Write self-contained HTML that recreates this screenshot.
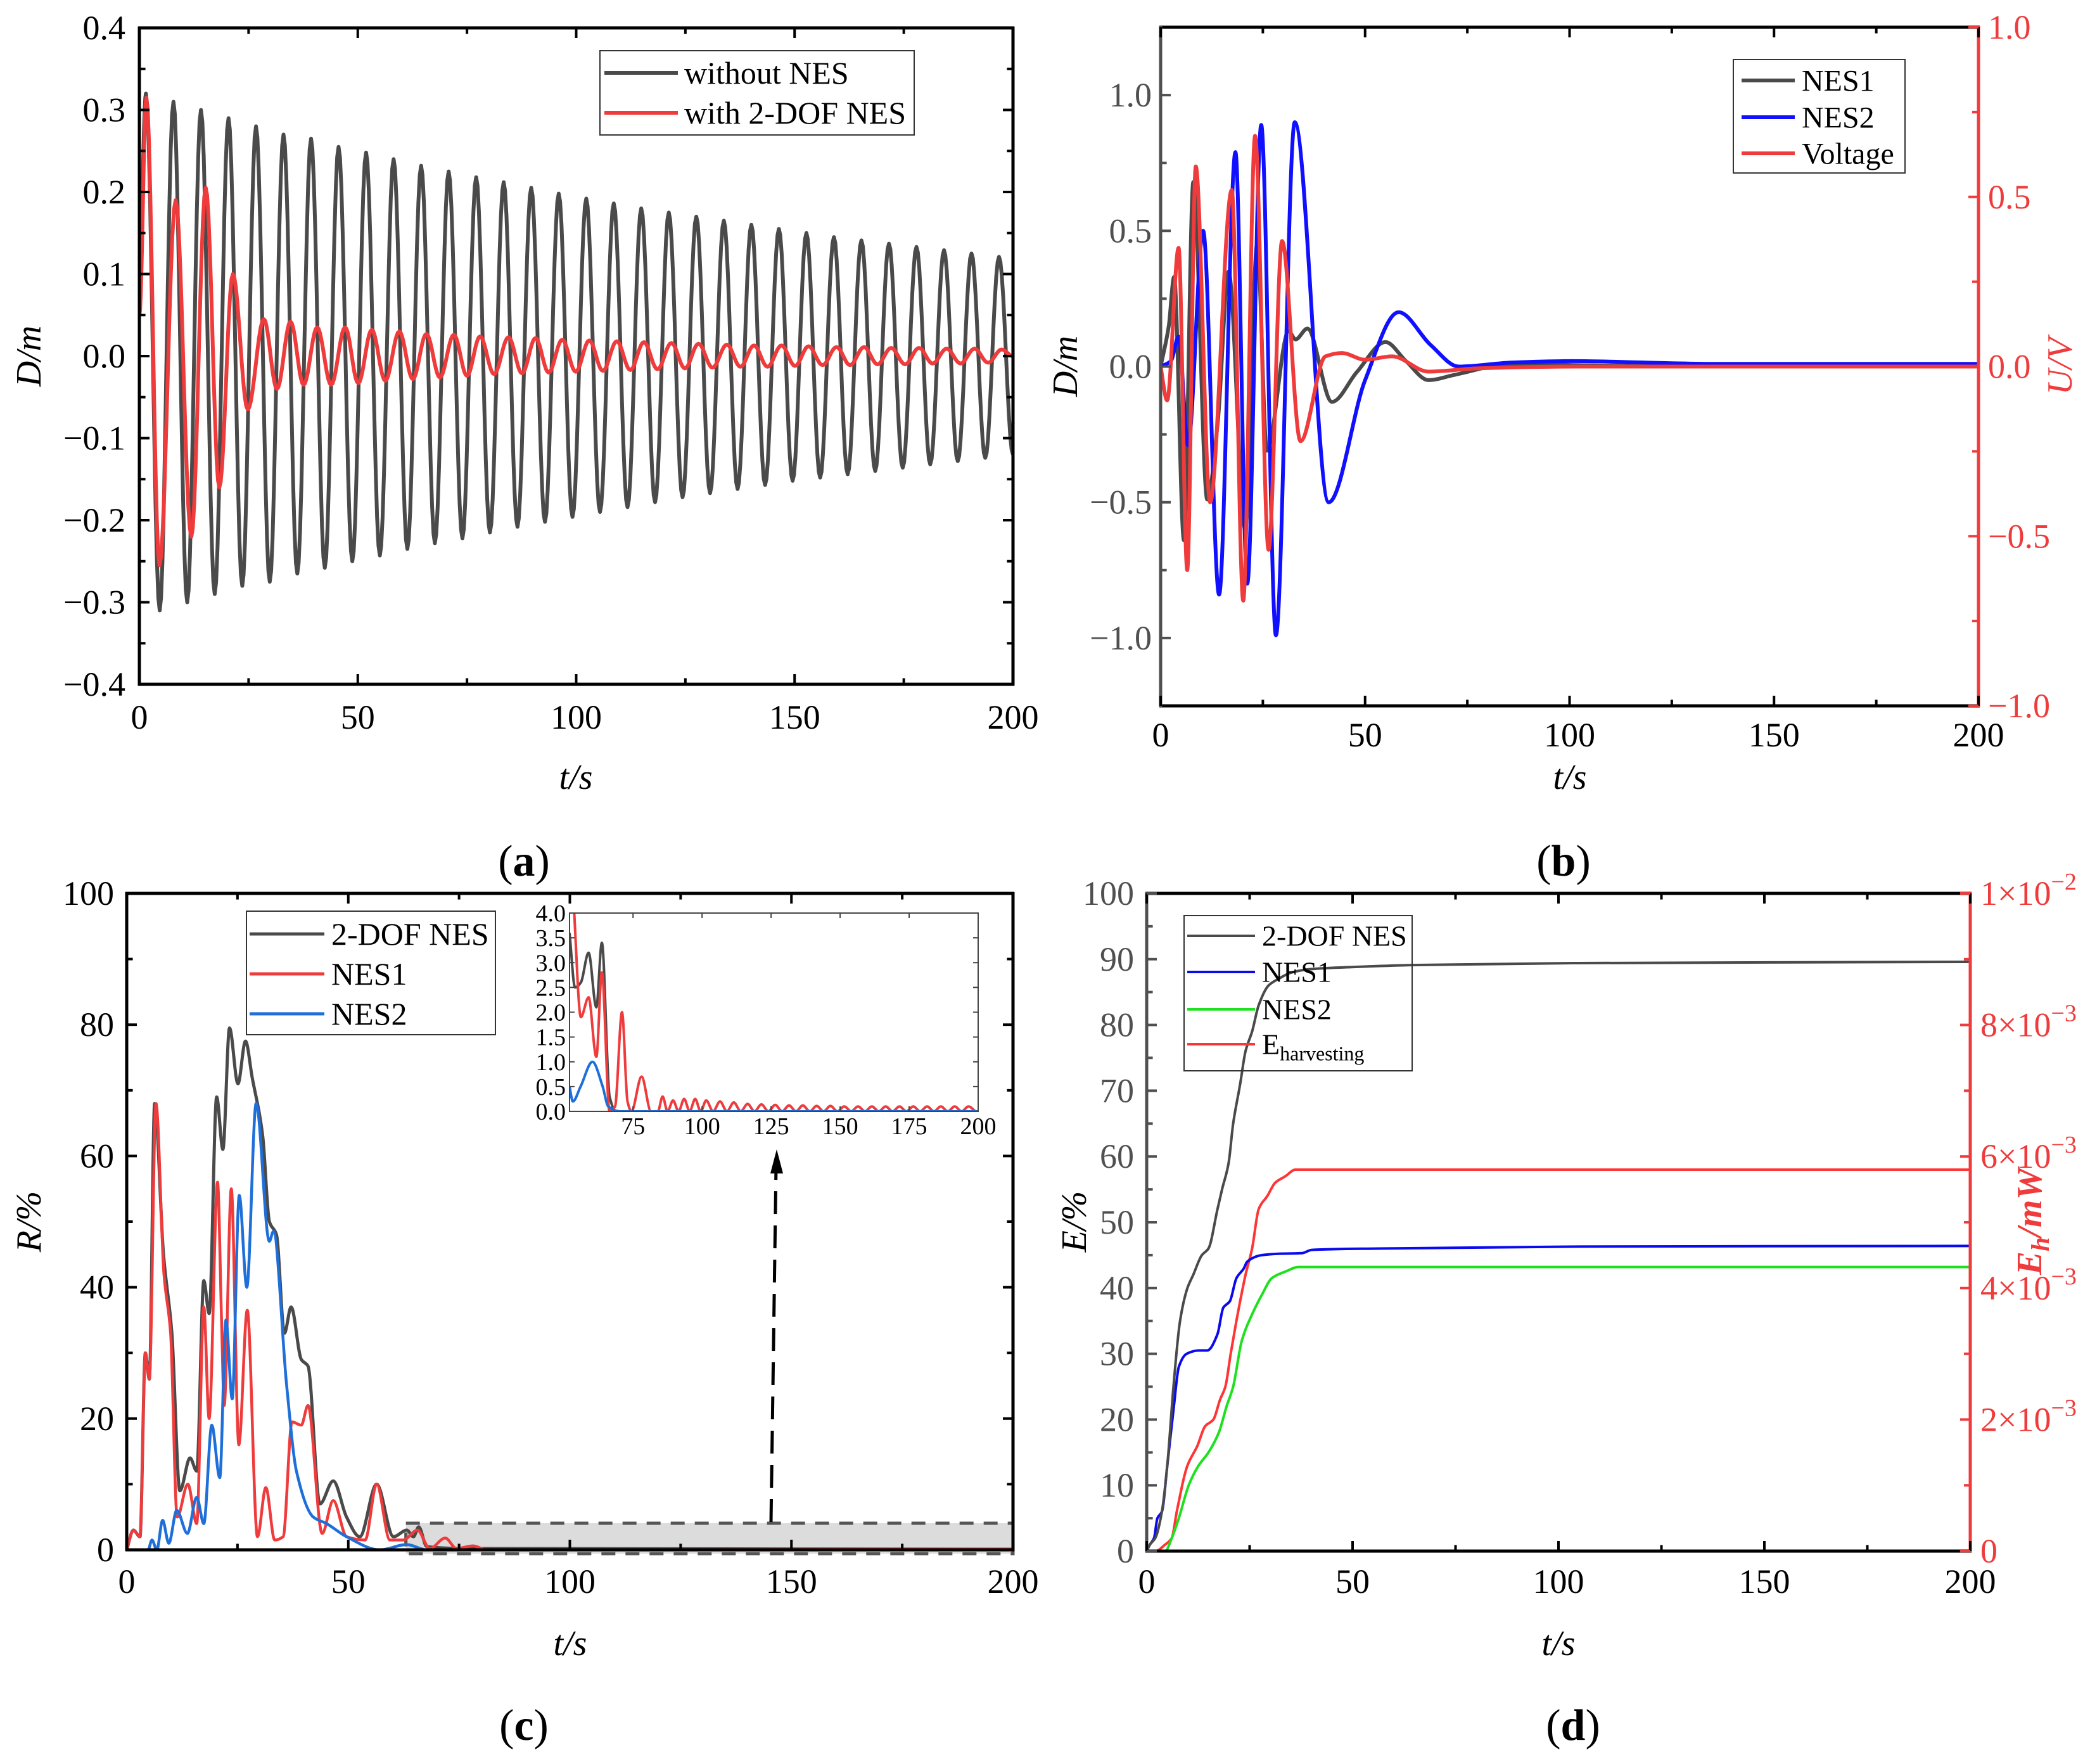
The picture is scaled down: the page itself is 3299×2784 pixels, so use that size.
<!DOCTYPE html>
<html><head><meta charset="utf-8"><style>
html,body{margin:0;padding:0;background:#fff;}
svg{display:block;font-family:"Liberation Serif",serif;}
</style></head><body>
<svg id="fig" width="3299" height="2784" viewBox="0 0 3299 2784" xmlns="http://www.w3.org/2000/svg"></svg>
<script>
// ---------- Panel (a) data: extrema of oscillations ----------
const aGrayT = [0,1.5,4.65,7.8,10.95,14.1,17.25,20.4,23.55,26.7,29.85,33,36.15,39.3,42.45,45.6,48.75,51.9,55.05,58.2,61.35,64.5,67.65,70.8,73.95,77.1,80.25,83.4,86.55,89.7,92.85,96,99.15,102.3,105.45,108.6,111.75,114.9,118.05,121.2,124.35,127.5,130.65,133.8,136.95,140.1,143.25,146.4,149.55,152.7,155.85,159,162.15,165.3,168.45,171.6,174.75,177.9,181.05,184.2,187.35,190.5,193.65,196.8,200];
const aGrayV = [0.1,0.32,-0.31,0.31,-0.30,0.30,-0.29,0.29,-0.28,0.28,-0.275,0.27,-0.265,0.265,-0.258,0.255,-0.25,0.248,-0.243,0.24,-0.235,0.232,-0.228,0.225,-0.222,0.218,-0.215,0.212,-0.208,0.205,-0.202,0.198,-0.196,0.192,-0.19,0.186,-0.184,0.18,-0.178,0.175,-0.172,0.17,-0.167,0.165,-0.162,0.16,-0.157,0.155,-0.152,0.15,-0.148,0.145,-0.144,0.141,-0.14,0.137,-0.136,0.133,-0.132,0.129,-0.128,0.125,-0.124,0.121,-0.12];
const aRedT = [0,1.6,4.6,8.3,11.9,15.2,18.3,21.4,24.8,28.5,31.5,34.6,37.6,40.7,43.9,47.1,50.1,53.2,56.3,59.5,62.6,65.7,68.8,72,75,78,81.2,84.5,87.6,90.7,93.7,96.8,99.9,103,106.1,109.3,112.4,115.5,118.6,121.8,124.9,128,131.2,134.5,137.6,140.7,143.8,147,150.1,153.2,156.4,159.6,162.7,165.9,169,172.1,175.3,178.5,181.6,184.8,188,191.2,194.3,197.4,200];
const aRedV = [0.05,0.315,-0.255,0.19,-0.22,0.205,-0.16,0.1,-0.065,0.045,-0.04,0.042,-0.035,0.035,-0.035,0.035,-0.033,0.032,-0.03,0.03,-0.028,0.027,-0.026,0.026,-0.024,0.024,-0.022,0.023,-0.021,0.022,-0.02,0.02,-0.019,0.019,-0.018,0.018,-0.017,0.017,-0.016,0.016,-0.015,0.015,-0.014,0.014,-0.013,0.013,-0.013,0.013,-0.012,0.012,-0.011,0.011,-0.011,0.011,-0.01,0.01,-0.01,0.01,-0.009,0.009,-0.009,0.009,-0.008,0.008,0];
const aXTicks = [0,50,100,150,200];
const aYTicks = [-0.4,-0.3,-0.2,-0.1,0,0.1,0.2,0.3,0.4];
// ---------- Panel (b) ----------
const bNes1T = [0,2,3.3,5.7,8,11.4,14,16.6,20.7,23.6,26,31.3,33,35.9,41.9,48,55,60,65.5,72,86,102,130,200];
const bNes1V = [0,0.15,0.33,-0.64,0.68,-0.49,-0.2,0.35,-0.6,0.45,-0.31,0.13,0.1,0.14,-0.13,-0.02,0.09,0.02,-0.05,-0.03,0.01,0.005,0,0];
const bNes2T = [0,2.5,4.4,6.7,10.4,14.3,18.3,21.2,24.6,28.2,32.8,41.1,50,58.2,66,72.9,86,100.6,134.8,200];
const bNes2V = [0,0.02,0.11,-0.29,0.5,-0.84,0.79,-0.8,0.89,-0.99,0.9,-0.5,-0.05,0.2,0.08,0.0,0.015,0.02,0.01,0.01];
const bVoltT = [0,1.6,4.4,6.5,8.6,12.1,17.4,20.2,23.1,26.4,29.7,34.2,40.3,44.3,50,56.6,65.5,77.8,102,200];
const bVoltV = [0,-0.1,0.35,-0.6,0.59,-0.4,0.52,-0.69,0.68,-0.54,0.37,-0.22,0.03,0.04,0.02,0.03,-0.015,-0.005,0,0];
const bXTicks = [0,50,100,150,200];
const bYTicks = [-1.0,-0.5,0,0.5,1.0];
const bY2Ticks = [-1.0,-0.5,0,0.5,1.0];
// ---------- Panel (c) ----------
const cDofT = [0,1.5,3,4.2,5.1,6.3,8.3,10.2,12,14.3,15.8,17.4,18.6,20.3,21.7,23.2,25.1,26.8,28.3,30.7,32.2,33.8,35.6,37.1,39.4,40.9,43.6,46.6,49.6,52.6,56.4,60.2,63.2,64.7,65.9,67.7,76.7,200];
const cDofV = [0,3,2,30,26,68,45,33,9,14,12,41,36,69,61,79.5,71,77.5,72,63,50,48,33,37,29,28,7,10.5,5,2,10,2,3,2,3.5,0.5,0.2,0.1];
const cN1T = [0,1.5,3,4.2,5.1,6.6,8.4,9.9,11.4,13.8,15.8,17.4,18.6,20.5,21.4,22,23.6,25.3,27.2,29.5,31.4,33.4,35.3,37.3,39.4,40.9,44.1,46.6,49.6,53.8,56.4,59.4,62.4,65.6,68.4,71.9,74.4,78.2,81.2,200];
const cN1V = [0,3,2,30,26,68,42,33,5,10,4,37,20,56,35,22,55,16,36.5,2,9.5,1.5,2,19.5,19,22,2.5,7.5,2,1.5,10,1.5,1.5,3,0.2,1.8,0.2,0.6,0,0.1];
const cN2T = [0,4.8,5.7,6.8,8.1,9.5,11.3,13.7,15.8,17.4,19.2,21,22.4,23.8,25.4,27.1,29.2,32.2,33.1,36.1,38.3,42.1,45.1,49.6,57.1,63.2,67.7,200];
const cN2V = [0,0,1.5,0,4.5,1,6,2.5,8,4,19,11,35,23,54,40,68,47,48.5,25,12,5,4,2,0,0.8,0,0];
const cXTicks = [0,50,100,150,200];
const cYTicks = [0,20,40,60,80,100];
// inset
const iDofT = [52,54,56.1,58.9,61.7,63.7,66.5,68.8,75,200];
const iDofV = [3.6,2.5,2.6,3.2,2.1,3.4,0.3,0,0,0];
const iN1T = [53.5,56.1,58.9,61.7,63.7,66.5,68.5,71,73,74.4,78.1,81.5,84,85.7,87.5,89.5,91.5,93.5,95.5,97.5,99.5,101.5,104,106.5,109,111.5,114,116.5,119,121.5,124,126.5,129,131.5,134,136.5,139,141.5,144,146.5,149,151.5,154,156.5,159,161.5,164,166.5,169,171.5,174,176.5,179,181.5,184,186.5,189,191.5,194,196.5,199];
const iN1V = [4.2,1.9,2.3,1.1,2.8,0,0.1,2.0,0.2,0,0.7,0,0,0.3,0,0.22,0,0.25,0,0.25,0,0.22,0,0.2,0,0.18,0,0.15,0,0.14,0,0.13,0,0.12,0,0.12,0,0.11,0,0.11,0,0.1,0,0.1,0,0.1,0,0.1,0,0.1,0,0.1,0,0.1,0,0.1,0,0.1,0,0.1,0];
const iN2T = [52,53.2,56,60.3,64,66,70.2,200];
const iN2V = [0.5,0.2,0.5,1.0,0.5,0.1,0,0];
const iXTicks = [75,100,125,150,175,200];
const iYTicks = [0,0.5,1,1.5,2,2.5,3,3.5,4];
const iYLabels = ["0.0","0.5","1.0","1.5","2.0","2.5","3.0","3.5","4.0"];
// ---------- Panel (d) ----------
const dDofT = [0,0.8,2.1,3.7,5,6.5,8.1,9.9,11.3,13.4,15,17.2,18.3,19.9,21,22.7,24,25.6,27.2,29.6,32,35.3,40.1,49.8,64.4,104.9,200];
const dDofV = [0,1,2,6,13,25,35,40,42,45,46,52,55,59,65,71,76,79,83,86,87,88,88.5,88.8,89.1,89.4,89.6];
const dN1T = [0,0.8,1.8,2.6,3.7,5,6.6,7.8,9.7,12.6,14.7,17.2,18.6,20.2,21.8,23.6,24.4,28,32,37.7,40.1,56.3,104.9,200];
const dN1V = [0,1,2,5,6,13,22,28,30,30.5,30.5,33,37,38,41.5,43,44,45,45.2,45.3,45.8,46,46.3,46.4];
const dN2T = [0,4.5,6.1,7.8,10.2,12.6,15,17.5,19.4,21,23.1,25.6,28,30.4,33.7,36.9,200];
const dN2V = [0,0,2,5,10,13,15,18,22,25,32,36,39,41.5,42.5,43.2,43.2];
const dEhT = [0,2.1,4.5,6.1,7.3,9.9,12.3,14.2,16.2,17.8,19.1,20.4,21.5,22.7,24,25.6,27.2,29.3,31.2,33.7,36.1,40.1,200];
const dEhV = [0,0,0.1,0.2,0.6,1.3,1.6,1.9,2.0,2.3,2.5,3.0,3.4,3.8,4.2,4.6,5.2,5.4,5.6,5.7,5.8,5.8,5.8]; // ×10^-3 mW
const dXTicks = [0,50,100,150,200];
const dYTicks = [0,10,20,30,40,50,60,70,80,90,100];
const dY2Ticks = [0,2,4,6,8,10];
const dY2Exp = ["","−3","−3","−3","−3","−2"];
const dY2Mant = ["0","2","4","6","8","1"];

// ---------- helpers ----------
const NS = "http://www.w3.org/2000/svg";
const svg = document.getElementById('fig');
function mk(tag, attrs, parent){
  const e = document.createElementNS(NS, tag);
  for (const k in attrs) e.setAttribute(k, attrs[k]);
  (parent || svg).appendChild(e);
  return e;
}
function axis(x0,x1,y0,y1,xmin,xmax,ymin,ymax){
  return {x0,x1,y0,y1,
    fx: v => x0 + (v - xmin) / (xmax - xmin) * (x1 - x0),
    fy: v => y1 - (v - ymin) / (ymax - ymin) * (y1 - y0)};
}
function fmt(v, d){ const s = Math.abs(v).toFixed(d); return (v < 0 ? "−" : "") + s; }
// monotone cubic (Fritsch-Carlson) in pixel space
function smoothPath(pts){
  const n = pts.length;
  const dx = [], s = [];
  for (let i = 0; i < n-1; i++){ dx[i] = pts[i+1][0]-pts[i][0]; s[i] = dx[i] ? (pts[i+1][1]-pts[i][1])/dx[i] : 0; }
  const m = [];
  m[0] = s[0]; m[n-1] = s[n-2];
  for (let i = 1; i < n-1; i++){
    if (s[i-1]*s[i] <= 0) m[i] = 0;
    else { const w1 = 2*dx[i]+dx[i-1], w2 = dx[i]+2*dx[i-1]; m[i] = (w1+w2)/(w1/s[i-1]+w2/s[i]); }
  }
  let d = "M" + pts[0][0].toFixed(1) + "," + pts[0][1].toFixed(1);
  for (let i = 0; i < n-1; i++){
    const h = dx[i]/3;
    d += "C" + (pts[i][0]+h).toFixed(1)+","+(pts[i][1]+m[i]*h).toFixed(1)+" "+(pts[i+1][0]-h).toFixed(1)+","+(pts[i+1][1]-m[i+1]*h).toFixed(1)+" "+pts[i+1][0].toFixed(1)+","+pts[i+1][1].toFixed(1);
  }
  return d;
}
function cosPath(ax, T, V){
  let d = "";
  for (let i = 0; i < T.length - 1; i++){
    const n = 10;
    for (let k = 0; k <= n; k++){
      if (i > 0 && k === 0) continue;
      const u = k / n;
      const t = T[i] + (T[i+1]-T[i]) * u;
      const v = V[i] + (V[i+1]-V[i]) * (1 - Math.cos(Math.PI*u)) / 2;
      d += (d ? "L" : "M") + ax.fx(t).toFixed(1) + "," + ax.fy(v).toFixed(1);
    }
  }
  return d;
}
function series(ax, T, V, scale){ return T.map((t,i) => [ax.fx(t), ax.fy(V[i]*(scale||1))]); }
function clip(id, ax){
  const cp = mk('clipPath', {id});
  mk('rect', {x:ax.x0, y:ax.y0, width:ax.x1-ax.x0, height:ax.y1-ax.y0}, cp);
}
function text(x, y, s, size, anchor, color, extra){
  const t = mk('text', Object.assign({x, y, 'font-size':size, 'text-anchor':anchor||'middle', fill:color||'#000'}, extra||{}));
  t.textContent = s;
  return t;
}
function line(x1,y1,x2,y2,color,w,parent){ return mk('line',{x1,y1,x2,y2,stroke:color,'stroke-width':w},parent); }

function xTicks(ax, ticks, minorStep, color, len){
  const g = mk('g', {});
  
  
  const all = [];
  for (let v = ticks[0]; v <= ticks[ticks.length-1] + 1e-9; v += minorStep) all.push(v);
  all.forEach(v => {
    const major = ticks.some(t => Math.abs(t-v) < 1e-6);
    const L = major ? len : len*0.6, x = ax.fx(v);
    line(x, ax.y1, x, ax.y1 - L, color, 4, g);
    line(x, ax.y0, x, ax.y0 + L, '#000', 4, g);
  });
}
function yTicks(ax, ticks, minorStep, colorL, colorR, len, doRight){
  const g = mk('g', {});
  
  
  for (let v = ticks[0]; v <= ticks[ticks.length-1] + 1e-9; v += minorStep){
    const major = ticks.some(t => Math.abs(t-v) < 1e-6);
    const L = major ? len : len*0.6, y = ax.fy(v);
    line(ax.x0, y, ax.x0 + L, y, colorL, 4, g);
    if (doRight) line(ax.x1, y, ax.x1 - L, y, colorR, 4, g);
  }
}
function frame(ax, cl, cb, cr, ct, w){
  line(ax.x0-2, ax.y1, ax.x1+2, ax.y1, cb, w);
  line(ax.x0-2, ax.y0, ax.x1+2, ax.y0, ct, w);
  line(ax.x0, ax.y0-2, ax.x0, ax.y1+2, cl, w);
  line(ax.x1, ax.y0-2, ax.x1, ax.y1+2, cr, w);
}
function legend(x, y, w, h, entries, lx0, lx1, tx, size, sw, fill){
  const g = mk('g', {});
  
  
  mk('rect', {x, y, width:w, height:h, fill:fill, stroke:'#333', 'stroke-width':2}, g);
  entries.forEach(en => {
    const e = mk('g', {}, g);
    
    
    line(lx0, en.y, lx1, en.y, en.color, sw, e);
    const t = mk('text', {x:tx, y:en.y + size*0.34, 'font-size':size, fill:'#000'}, e);
    t.innerHTML = en.label;
  });
}
const GRAY = '#505050', RED = '#ef3b3b';

// ================= Panel (a) =================
const axA = axis(220, 1599, 44, 1080, 0, 200, -0.4, 0.4);
clip('clipA', axA);
{
  const g = mk('g', {'clip-path':'url(#clipA)', fill:'none', 'stroke-linejoin':'round'});
  
  
  const p1 = mk('path', {d:cosPath(axA, aGrayT, aGrayV), stroke:'#4a4a4a', 'stroke-width':6}, g);
  
  
  const p2 = mk('path', {d:cosPath(axA, aRedT, aRedV), stroke:RED, 'stroke-width':6}, g);
  
  
}
frame(axA, '#000','#000','#000','#000', 5);
xTicks(axA, aXTicks, 25, '#000', 16);
yTicks(axA, aYTicks, 0.05, '#000', '#000', 16, true);
aXTicks.forEach(v => { const t = text(axA.fx(v), 1150, String(v), 54);   });
aYTicks.forEach(v => { const t = text(198, axA.fy(v)+18, fmt(v,1), 54, 'end');   });
{ const t = text(909, 1245, 't/s', 56, 'middle', '#000', {'font-style':'italic'});   }
{ const t = text(0, 0, 'D/m', 56, 'middle', '#000', {'font-style':'italic', transform:'translate(64,562) rotate(-90)'});   }
legend(947, 80, 496, 133, [{y:115, color:'#4a4a4a', label:'without NES'},{y:178, color:RED, label:'with 2-DOF NES'}], 954, 1070, 1080, 50, 6, '#fff');
{ const t = mk('text', {x:827, y:1382, 'font-size':70, 'text-anchor':'middle'}); t.innerHTML = '(<tspan font-weight="bold">a</tspan>)';   }

// ================= Panel (b) =================
const axB = axis(1832, 3123, 43, 1114, 0, 200, -1.25, 1.25);
const axB2 = axis(1832, 3123, 43, 1114, 0, 200, -1, 1);
clip('clipB', axB);
{
  const g = mk('g', {'clip-path':'url(#clipB)', fill:'none', 'stroke-linejoin':'round'});
  
  
  const p1 = mk('path', {d:smoothPath(series(axB, bNes1T, bNes1V)), stroke:'#4a4a4a', 'stroke-width':6}, g);
  
  
  const p2 = mk('path', {d:smoothPath(series(axB, bNes2T, bNes2V)), stroke:'#1010ff', 'stroke-width':6}, g);
  
  
  const p3 = mk('path', {d:smoothPath(series(axB2, bVoltT, bVoltV)), stroke:RED, 'stroke-width':6}, g);
  
  
}
frame(axB, GRAY, '#000', RED, '#000', 5);
xTicks(axB, bXTicks, 25, '#000', 16);
yTicks(axB, [-1.0,-0.5,0,0.5,1.0], 0.25, GRAY, GRAY, 16, false);
bY2Ticks.forEach((v,i) => { line(axB2.x1, axB2.fy(v), axB2.x1 - 16, axB2.fy(v), RED, 4); });
[-0.75,-0.25,0.25,0.75].forEach(v => { line(axB2.x1, axB2.fy(v), axB2.x1 - 10, axB2.fy(v), RED, 4); });
bXTicks.forEach(v => { const t = text(axB.fx(v), 1178, String(v), 54);   });
bYTicks.forEach(v => { const t = text(1818, axB.fy(v)+18, fmt(v,1), 54, 'end', GRAY);   });
bY2Ticks.forEach(v => { const t = text(3138, axB2.fy(v)+18, fmt(v,1), 54, 'start', RED);   });
{ const t = text(2478, 1245, 't/s', 56, 'middle', '#000', {'font-style':'italic'});   }
{ const t = text(0, 0, 'D/m', 56, 'middle', '#000', {'font-style':'italic', transform:'translate(1700,578) rotate(-90)'});   }
{ const t = text(0, 0, 'U/V', 56, 'middle', RED, {'font-style':'italic', transform:'translate(3270,578) rotate(-90)'});   }
legend(2736, 94, 271, 179, [{y:127, color:'#4a4a4a', label:'NES1'},{y:185, color:'#1010ff', label:'NES2'},{y:242, color:RED, label:'Voltage'}], 2749, 2833, 2844, 48, 6, '#fff');
{ const t = mk('text', {x:2468, y:1382, 'font-size':70, 'text-anchor':'middle'}); t.innerHTML = '(<tspan font-weight="bold">b</tspan>)';   }

// ================= Panel (c) =================
const axC = axis(200, 1599, 1410, 2446, 0, 200, 0, 100);
clip('clipC', axC);
{
  const hb = mk('rect', {x:axC.fx(63), y:2404, width:axC.fx(200)-axC.fx(63), height:48, fill:'#dcdcdc', stroke:'#555', 'stroke-width':5, 'stroke-dasharray':'22,16'});
  
  
  const g = mk('g', {'clip-path':'url(#clipC)', fill:'none', 'stroke-linejoin':'round'});
  
  
  const p1 = mk('path', {d:smoothPath(series(axC, cDofT, cDofV)), stroke:'#4a4a4a', 'stroke-width':5}, g);
  
  
  const p2 = mk('path', {d:smoothPath(series(axC, cN1T, cN1V)), stroke:RED, 'stroke-width':4.5}, g);
  
  
  const p3 = mk('path', {d:smoothPath(series(axC, cN2T, cN2V)), stroke:'#1e6fd9', 'stroke-width':4.5}, g);
  
  
  const ar = mk('line', {x1:1217, y1:2402, x2:1225, y2:1840, stroke:'#000', 'stroke-width':5, 'stroke-dasharray':'36,18'});
  
  
  const ah = mk('polygon', {points:'1226,1814 1216,1852 1236,1852', fill:'#000'});
  
  
}
frame(axC, '#000','#000','#000','#000', 5);
xTicks(axC, cXTicks, 25, '#000', 16);
yTicks(axC, cYTicks, 10, '#000', '#000', 16, true);
cXTicks.forEach(v => { const t = text(axC.fx(v), 2514, String(v), 54);   });
cYTicks.forEach(v => { const t = text(180, axC.fy(v)+18, String(v), 54, 'end');   });
{ const t = text(900, 2612, 't/s', 56, 'middle', '#000', {'font-style':'italic'});   }
{ const t = text(0, 0, 'R/%', 56, 'middle', '#000', {'font-style':'italic', transform:'translate(64,1928) rotate(-90)'});   }
legend(389, 1438, 393, 195, [{y:1474, color:'#4a4a4a', label:'2-DOF NES'},{y:1537, color:RED, label:'NES1'},{y:1600, color:'#1e6fd9', label:'NES2'}], 394, 512, 523, 50, 5, '#fff');
const axI = axis(899, 1544, 1441, 1754, 52, 200, 0, 4);
clip('clipI', axI);
{
  const g = mk('g', {'clip-path':'url(#clipI)', fill:'none', 'stroke-linejoin':'round'});
  
  
  const p1 = mk('path', {d:smoothPath(series(axI, iDofT, iDofV)), stroke:'#4a4a4a', 'stroke-width':4}, g);
  
  
  const p2 = mk('path', {d:smoothPath(series(axI, iN1T, iN1V)), stroke:RED, 'stroke-width':4}, g);
  
  
  const p3 = mk('path', {d:smoothPath(series(axI, iN2T, iN2V)), stroke:'#1e6fd9', 'stroke-width':4}, g);
  
  
  const fr = mk('rect', {x:axI.x0, y:axI.y0, width:axI.x1-axI.x0, height:axI.y1-axI.y0, fill:'none', stroke:'#444', 'stroke-width':2});
  
  
  iXTicks.forEach(v => { line(axI.fx(v), axI.y1, axI.fx(v), axI.y1-8, '#444', 2); line(axI.fx(v), axI.y0, axI.fx(v), axI.y0+8, '#444', 2);
    const t = text(axI.fx(v), 1790, String(v), 38);   });
  iYTicks.forEach((v,i) => { line(axI.x0, axI.fy(v), axI.x0+8, axI.fy(v), '#444', 2); line(axI.x1, axI.fy(v), axI.x1-8, axI.fy(v), '#444', 2);
    const t = text(893, axI.fy(v)+13, iYLabels[i], 38, 'end');   });
}
{ const t = mk('text', {x:827, y:2746, 'font-size':70, 'text-anchor':'middle'}); t.innerHTML = '(<tspan font-weight="bold">c</tspan>)';   }

// ================= Panel (d) =================
const axD = axis(1810, 3110, 1410, 2448, 0, 200, 0, 100);
const axD2 = axis(1810, 3110, 1410, 2448, 0, 200, 0, 10);
clip('clipD', axD);
{
  const g = mk('g', {'clip-path':'url(#clipD)', fill:'none', 'stroke-linejoin':'round'});
  
  
  const p4 = mk('path', {d:smoothPath(series(axD2, dEhT, dEhV)), stroke:'#ff3535', 'stroke-width':4}, g);
  
  
  const p3 = mk('path', {d:smoothPath(series(axD, dN2T, dN2V)), stroke:'#1ee01e', 'stroke-width':4}, g);
  
  
  const p2 = mk('path', {d:smoothPath(series(axD, dN1T, dN1V)), stroke:'#0a0aee', 'stroke-width':4}, g);
  
  
  const p1 = mk('path', {d:smoothPath(series(axD, dDofT, dDofV)), stroke:'#4a4a4a', 'stroke-width':4}, g);
  
  
}
frame(axD, GRAY, '#000', RED, '#000', 5);
xTicks(axD, dXTicks, 25, '#000', 16);
yTicks(axD, dYTicks, 5, GRAY, GRAY, 16, false);
for (let v = 0; v <= 10; v += 1){ const L = (v % 2 === 0) ? 16 : 10; line(axD2.x1, axD2.fy(v), axD2.x1 - L, axD2.fy(v), RED, 4); }
dXTicks.forEach(v => { const t = text(axD.fx(v), 2514, String(v), 54);   });
dYTicks.forEach(v => { const t = text(1790, axD.fy(v)+18, String(v), 54, 'end', GRAY);   });
dY2Ticks.forEach((v,i) => {
  const t = mk('text', {x:3126, y:axD2.fy(v)+18, 'font-size':54, fill:RED});
  
  
  t.innerHTML = dY2Exp[i] ? dY2Mant[i] + '×10<tspan font-size="38" dy="-24">' + dY2Exp[i] + '</tspan>' : dY2Mant[i];
});
{ const t = text(2460, 2612, 't/s', 56, 'middle', '#000', {'font-style':'italic'});   }
{ const t = text(0, 0, 'E/%', 56, 'middle', '#000', {'font-style':'italic', transform:'translate(1714,1928) rotate(-90)'});   }
{ const t = mk('text', {'font-size':56, 'text-anchor':'middle', fill:RED, 'font-style':'italic', 'font-weight':'bold', transform:'translate(3222,1928) rotate(-90)'}); t.innerHTML = 'E<tspan font-size="40" dy="12">h</tspan><tspan dy="-12">/mW</tspan>';   }
legend(1869, 1445, 360, 245, [{y:1477, color:'#4a4a4a', label:'2-DOF NES'},{y:1534, color:'#0a0aee', label:'NES1'},{y:1593, color:'#1ee01e', label:'NES2'},{y:1648, color:'#ff3535', label:'E<tspan font-size="32" dy="10">harvesting</tspan>'}], 1874, 1981, 1992, 46, 4, 'none');
{ const t = mk('text', {x:2483, y:2746, 'font-size':70, 'text-anchor':'middle'}); t.innerHTML = '(<tspan font-weight="bold">d</tspan>)';   }
</script>
</body></html>
